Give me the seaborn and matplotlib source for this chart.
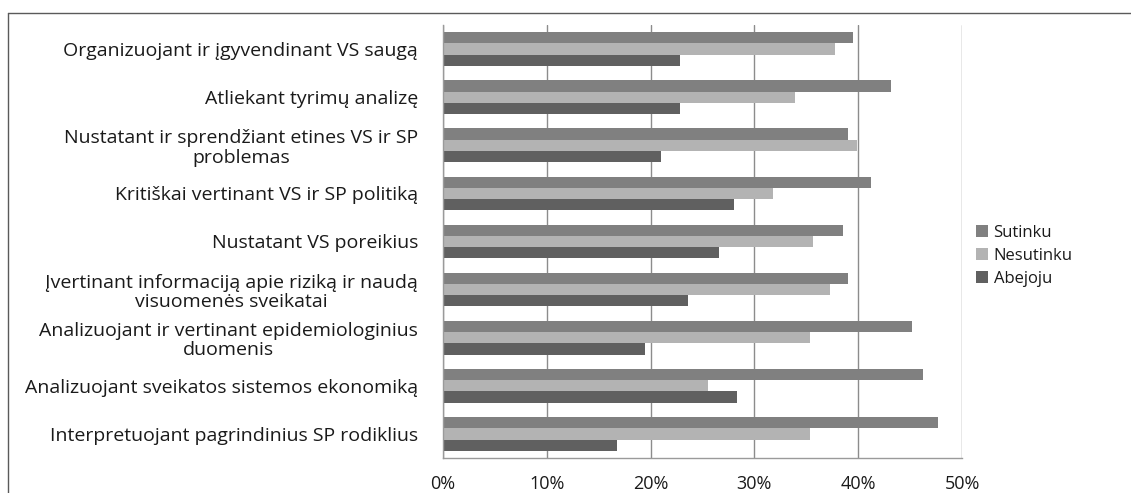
import matplotlib
matplotlib.use("Agg")
import matplotlib.pyplot as plt
from matplotlib.lines import Line2D
from matplotlib.ticker import PercentFormatter
import pandas as pd
import seaborn as sns

# Survey statements (top to bottom) and answer shares in percent
categories = [
    "Organizuojant ir įgyvendinant VS saugą",
    "Atliekant tyrimų analizę",
    "Nustatant ir sprendžiant etines VS ir SP\nproblemas",
    "Kritiškai vertinant VS ir SP politiką",
    "Nustatant VS poreikius",
    "Įvertinant informaciją apie riziką ir naudą\nvisuomenės sveikatai",
    "Analizuojant ir vertinant epidemiologinius\nduomenis",
    "Analizuojant sveikatos sistemos ekonomiką",
    "Interpretuojant pagrindinius SP rodiklius",
]
series_names = ["Sutinku", "Nesutinku", "Abejoju"]
sutinku = [39.5, 43.2, 39.0, 41.2, 38.5, 39.0, 45.2, 46.2, 47.7]
nesutinku = [37.8, 33.9, 39.9, 31.8, 35.6, 37.3, 35.4, 25.5, 35.4]
abejoju = [22.8, 22.8, 21.0, 28.0, 26.6, 23.6, 19.5, 28.3, 16.8]
x_ticks = [0, 10, 20, 30, 40, 50]

colors = ["#808080", "#b3b3b3", "#606060"]

rows = []
for name, values in zip(series_names, [sutinku, nesutinku, abejoju]):
    for cat, v in zip(categories, values):
        rows.append({"Teiginys": cat, "Atsakymas": name, "Procentai": v})
df = pd.DataFrame(rows)

sns.set_theme(style="white")
plt.rcParams["font.family"] = ["Open Sans", "DejaVu Sans"]

W, H = 1131, 493
fig = plt.figure(figsize=(W / 100, H / 100), dpi=100)
ax = fig.add_axes([443 / W, 1 - 458 / H, (962 - 443) / W, (458 - 25) / H])

sns.barplot(
    data=df, y="Teiginys", x="Procentai", hue="Atsakymas",
    order=categories, hue_order=series_names, palette=colors,
    orient="h", width=0.7, errorbar=None, saturation=1,
    linewidth=0, ax=ax, legend=False,
)

ax.set_xlim(0, 50)
ax.set_xticks(x_ticks)
ax.xaxis.set_major_formatter(PercentFormatter(decimals=0))
ax.set_xlabel("")
ax.set_ylabel("")
ax.set_ylim(len(categories) - 0.5, -0.5)

ax.grid(axis="x", color="#8c8c8c", linewidth=1.0)
ax.set_axisbelow(True)
for side in ["top", "right"]:
    ax.spines[side].set_visible(False)
for side in ["left", "bottom"]:
    ax.spines[side].set_color("#9a9a9a")
    ax.spines[side].set_linewidth(1.0)

ax.tick_params(axis="x", length=0, pad=12, labelsize=13, labelcolor="#1a1a1a")
ax.tick_params(axis="y", length=0, pad=18, labelsize=14, labelcolor="#1a1a1a")
for lbl in ax.get_yticklabels():
    lbl.set_multialignment("center")
    lbl.set_linespacing(1.12)

# Legend to the right of the plot area
handles = [Line2D([], [], marker="s", linestyle="", markersize=8,
                  markerfacecolor=c, markeredgewidth=0) for c in colors]
fig.legend(handles, series_names, loc="center left",
           bbox_to_anchor=(976 / W, 1 - 256 / H), frameon=False,
           fontsize=12, handlelength=0.75, handletextpad=0.3,
           labelspacing=0.4, borderpad=0, borderaxespad=0,
           labelcolor="#1a1a1a")

# Outer chart frame
fx, fy = 7.5 / W, 1 - 12.5 / H
fig.add_artist(Line2D([fx, fx], [0, fy], transform=fig.transFigure,
                      color="#5a5a5a", linewidth=1.0))
fig.add_artist(Line2D([fx, 1], [fy, fy], transform=fig.transFigure,
                      color="#5a5a5a", linewidth=1.0))

fig.savefig("out.png", dpi=100, facecolor="white")
